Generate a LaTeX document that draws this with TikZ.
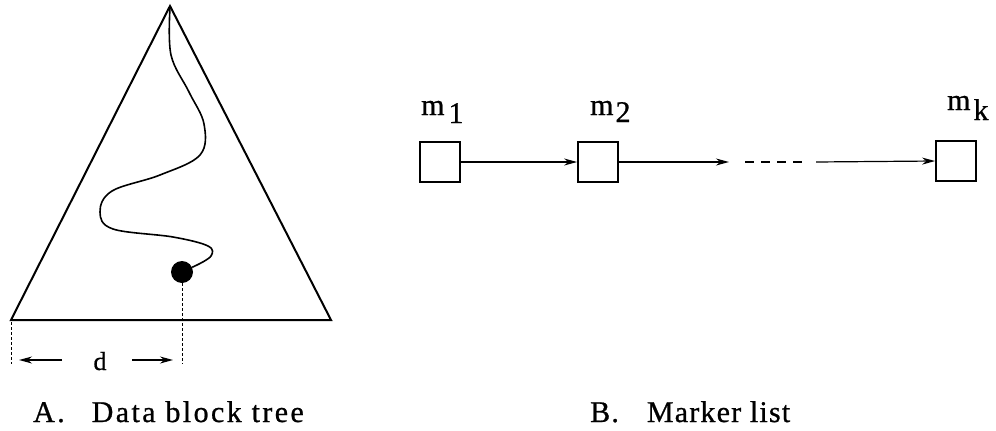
\documentclass[tikz,border=0pt]{standalone}
\usepackage{fontspec}
\setmainfont{Liberation Serif}
\newfontfamily\capAfont{Liberation Serif}[LetterSpace=8, FakeBold=0.8]
\newfontfamily\capBfont{Liberation Serif}[LetterSpace=4, FakeBold=0.8]
\newfontfamily\labfont{Liberation Serif}[FakeBold=0.8]
\usetikzlibrary{arrows.meta}
\begin{document}
\begin{tikzpicture}[x=1pt,y=-1pt,
  shape line/.style={line width=2pt, line join=miter},
  tip/.style={-{Stealth[length=13pt,width=7pt]}, line width=1.2pt},
  guide/.style={line width=1pt, dash pattern=on 3pt off 2pt},
  box/.style={draw, line width=1.8pt, minimum width=40pt, minimum height=40pt, inner sep=0pt},
  lab/.style={font=\labfont\fontsize{30}{33}\selectfont, inner sep=0pt, anchor=base west},
  capA/.style={font=\capAfont\fontsize{30}{33}\selectfont, inner sep=0pt, anchor=base west},
  capB/.style={font=\capBfont\fontsize{30}{33}\selectfont, inner sep=0pt, anchor=base west}]
\useasboundingbox (0,0) rectangle (996,431);
% --- A: data block tree
\coordinate (apex) at (170,6);
\coordinate (bl) at (11,320);
\coordinate (br) at (331,320);
\draw[shape line] (apex) -- (br) -- (bl) -- cycle;
\node[circle, fill, inner sep=0pt, minimum size=22pt] (ball) at (182,272) {};
\draw[line width=1.6pt] plot[smooth, tension=0.6] coordinates {(170,8) (171,55) (189,92) (204,124) (200,155) (160,175) (112,191) (100,212) (113,229) (173,237) (208,246) (211,256) (197,265)} -- (ball);
\coordinate (dbot) at (182,364);
\coordinate (ltop) at (11,322);
\coordinate (lbot) at (11,364);
\draw[guide] (ball.south) -- (dbot);
\draw[guide] (ltop) -- (lbot);
\node[font=\labfont\fontsize{26}{29}\selectfont, inner sep=0pt, anchor=base] (d) at (100,370) {d};
\coordinate (la) at (62,360);
\coordinate (lb) at (19,360);
\coordinate (ra) at (132,360);
\coordinate (rb) at (173,360);
\draw[tip] (la) -- (lb);
\draw[tip] (ra) -- (rb);
\node[capA] (captionA) at (33,422) {A.\hspace{27pt}Data block tree};
% --- B: marker list
\node[box] (m1) at (440,162) {};
\node[box] (m2) at (598,162) {};
\node[box] (mk) at (956,161) {};
\node[lab] (l1) at (421,115) {m\hspace{4pt}\raisebox{-8pt}{1}};
\node[lab] (l2) at (590,115) {m\hspace{2pt}\raisebox{-7pt}{2}};
\node[lab] (lk) at (947,110) {m\hspace{3pt}\raisebox{-10pt}{k}};
\draw[tip] (m1.east) -- (m2.west);
\coordinate (a2) at (729,162);
\draw[tip] (m2.east) -- (a2);
\coordinate (ds) at (745,162);
\coordinate (de) at (802,162);
\draw[line width=1.2pt, dash pattern=on 9pt off 7pt] (ds) -- (de);
\coordinate (a3) at (816,162);
\draw[tip] (a3) -- (mk.west);
\node[capB] (captionB) at (590,422) {B.\hspace{28pt}Marker list};
\end{tikzpicture}
\end{document}
